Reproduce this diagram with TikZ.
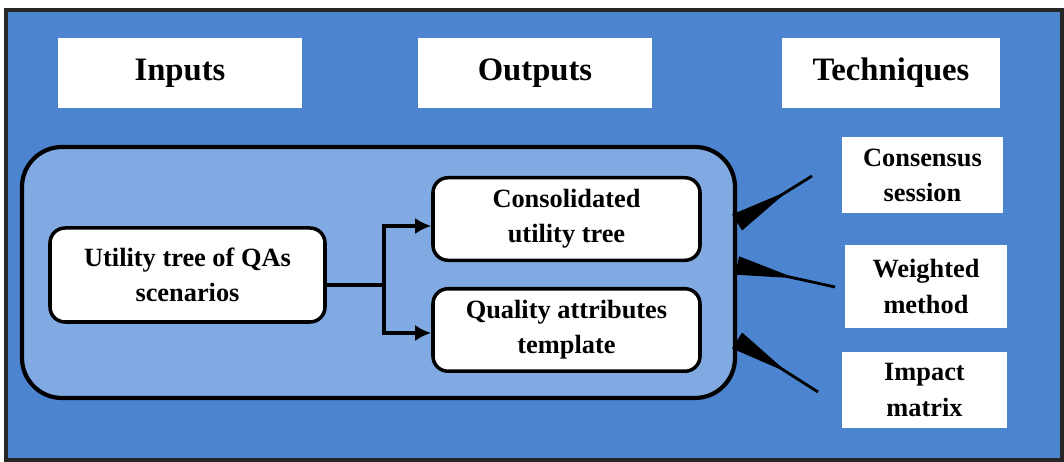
\documentclass[tikz,border=0pt]{standalone}
\usepackage{fontspec}
\setmainfont{Liberation Serif}
\usepackage{tikz}
\usetikzlibrary{arrows.meta,shapes}

\definecolor{panelblue}{RGB}{76,132,208}
\definecolor{phaseblue}{RGB}{130,170,226}

\tikzset{
    headbox/.style={fill=white, minimum height=0.70cm, font=\fontsize{9.3}{11}\selectfont\bfseries},
    itembox/.style={draw=black, line width=1pt, fill=white, rounded corners=0.15cm, align=center, font=\fontsize{7.5}{10}\selectfont\bfseries},
    techbox/.style={fill=white, align=center, font=\fontsize{7.5}{10}\selectfont\bfseries},
    flow/.style={line width=1.2pt, -{Latex[length=1.6mm,width=1.6mm]}},
    wedge/.style={line width=0.8pt, -{Triangle[reversed,length=6mm,width=1.8mm]}}
}

\begin{document}
\begin{tikzpicture}
    \useasboundingbox (0,0) rectangle (10.64,4.62);
    % Blue panel
    \draw[line width=1pt, draw=black!85, fill=panelblue] (0.06,0.02) rectangle (10.62,4.52);

    % Headers
    \node[headbox, minimum width=2.44cm] (inputs) at (1.80,3.89) {Inputs};
    \node[headbox, minimum width=2.34cm] (outputs) at (5.35,3.89) {Outputs};
    \node[headbox, minimum width=2.18cm] (techniques) at (8.91,3.89) {Techniques};

    % Phase frame
    \node[draw=black, line width=1.2pt, fill=phaseblue, rounded corners=0.4cm,
          minimum width=7.13cm, minimum height=2.51cm] (phase) at (3.785,1.895) {};

    % Inputs and outputs
    \node[itembox, minimum width=2.75cm, minimum height=0.94cm] (utility) at (1.875,1.87) {Utility tree of QAs\\scenarios};
    \node[itembox, minimum width=2.67cm, minimum height=0.78cm] (consolidated) at (5.665,2.43) {Consolidated\\utility tree};
    \node[itembox, minimum width=2.67cm, minimum height=0.80cm] (template) at (5.665,1.32) {Quality attributes\\template};

    \draw[line width=1.2pt] ([yshift=-1mm]utility.east) -- ++(0.57,0) coordinate (split);
    \draw[flow] (split) |- ([yshift=-0.7mm]consolidated.west);
    \draw[flow] (split) |- ([yshift=-0.3mm]template.west);

    % Techniques
    \node[techbox, minimum width=1.61cm, minimum height=0.74cm] (consensus) at (9.225,2.87) {Consensus\\session};
    \node[techbox, minimum width=1.62cm, minimum height=0.83cm] (weighted) at (9.26,1.755) {Weighted\\method};
    \node[techbox, minimum width=1.65cm, minimum height=0.76cm] (impact) at (9.245,0.72) {Impact\\matrix};

    \coordinate (consensus tail) at (8.12,2.86);
    \coordinate (weighted tail) at (8.35,1.75);
    \coordinate (impact tail) at (8.18,0.70);

    \draw[wedge] (consensus tail) -- ([yshift=5mm]phase.east);
    \draw[wedge] (weighted tail) -- ([yshift=0.7mm]phase.east);
    \draw[wedge] (impact tail) -- ([yshift=-6.8mm]phase.east);
\end{tikzpicture}
\end{document}
